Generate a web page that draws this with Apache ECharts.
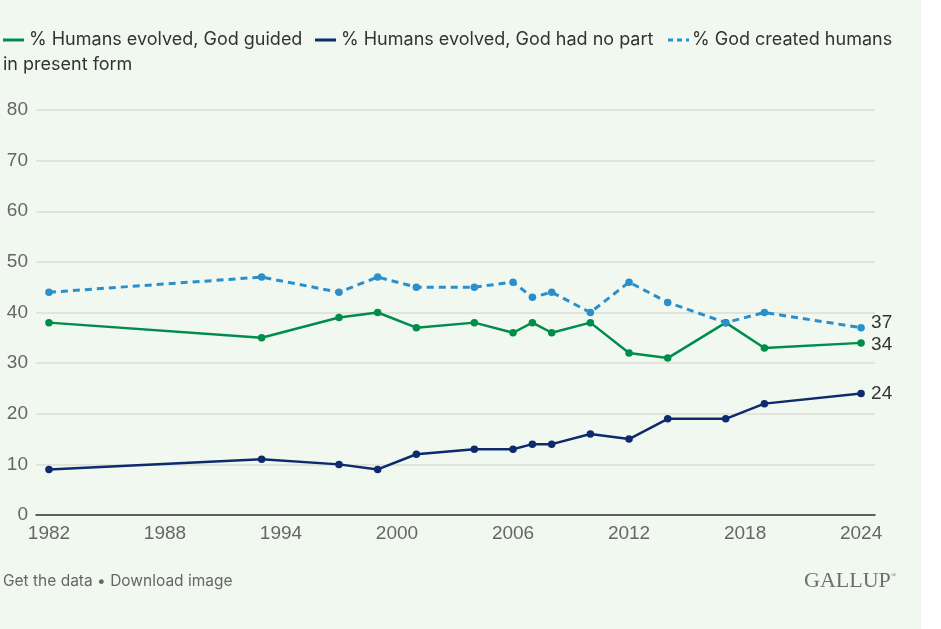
<!DOCTYPE html>
<html>
<head>
<meta charset="utf-8">
<script src="https://cdn.jsdelivr.net/npm/echarts@6/dist/echarts.min.js"></script>
<style>
  html, body { margin: 0; padding: 0; background: #ffffff; }
  #main { width: 941px; height: 629px; }
</style>
</head>
<body>
<div id="main"></div>
<script>
var years = [1982, 1993, 1997, 1999, 2001, 2004, 2006, 2007, 2008, 2010, 2012, 2014, 2017, 2019, 2024];
var guided = [38, 35, 39, 40, 37, 38, 36, 38, 36, 38, 32, 31, 38, 33, 34];
var noPart = [9, 11, 10, 9, 12, 13, 13, 14, 14, 16, 15, 19, 19, 22, 24];
var created = [44, 47, 44, 47, 45, 45, 46, 43, 44, 40, 46, 42, 38, 40, 37];
var yearTicks = [1982, 1988, 1994, 2000, 2006, 2012, 2018, 2024];

var GREEN = '#008c4a', NAVY = '#0c2a6c', BLUE = '#2a8fcb';

function pairs(vals) {
    var out = [];
    for (var i = 0; i < years.length; i++) {
        out.push([years[i], vals[i]]);
    }
    return out;
}

function makeSeries(name, vals, color, dashed, labelShift) {
    return {
        name: name,
        type: 'line',
        data: pairs(vals),
        symbol: 'circle',
        symbolSize: 7.5,
        lineStyle: { color: color, width: dashed ? 3 : 2.5, type: dashed ? [7, 5] : 'solid' },
        itemStyle: { color: color },
        emphasis: { disabled: true },
        endLabel: {
            show: true,
            distance: 10,
            offset: [0, labelShift],
            color: '#333',
            fontSize: 19,
            fontFamily: 'Liberation Sans',
            formatter: function (p) { return p.value[1]; }
        }
    };
}

function legendItem(x, textX, color, dashed, text) {
    return [
        {
            type: 'line',
            shape: { x1: x, y1: 40, x2: x + 21, y2: 40 },
            style: { stroke: color, lineWidth: 3, lineDash: dashed ? [5, 4] : null }
        },
        {
            type: 'text',
            x: textX, y: 40,
            style: { text: text, fill: '#333', font: '18px Inter', verticalAlign: 'middle' }
        }
    ];
}

var chart = echarts.init(document.getElementById('main'));

var option = {
    backgroundColor: '#ffffff',
    animation: false,
    grid: { left: 36, right: 66, top: 110, bottom: 114 },
    graphic: [
        { type: 'rect', z: -10, shape: { x: 0, y: 0, width: 921, height: 629 }, style: { fill: '#f1f8f0' } }
    ].concat(
        legendItem(3, 29, GREEN, false, '% Humans evolved, God guided'),
        legendItem(315, 341, NAVY, false, '% Humans evolved, God had no part'),
        legendItem(668, 692, BLUE, true, '% God created humans'),
        [
            { type: 'text', x: 3, y: 65, style: { text: 'in present form', fill: '#333', font: '18px Inter', verticalAlign: 'middle' } },
            { type: 'text', x: 3, y: 581, style: { text: 'Get the data \u2022 Download image', fill: '#666', font: '15.5px Inter', verticalAlign: 'middle' } },
            { type: 'text', x: 804, y: 581, style: { text: 'GALLUP', fill: '#6e6e6e', font: '22px "Liberation Serif"', verticalAlign: 'middle' } },
            { type: 'text', x: 891, y: 575, style: { text: '\u00ae', fill: '#6e6e6e', font: '7px "Liberation Serif"', verticalAlign: 'middle' } }
        ]
    ),
    xAxis: {
        type: 'value',
        min: 1981.33,
        max: 2024.72,
        axisLine: { show: true, lineStyle: { color: '#333', width: 1.5 } },
        axisTick: { show: false },
        splitLine: { show: false },
        axisLabel: {
            customValues: yearTicks,
            formatter: function (v) { return String(v); },
            color: '#666',
            fontSize: 19,
            fontFamily: 'Liberation Sans',
            margin: 9
        }
    },
    yAxis: {
        type: 'value',
        min: 0,
        max: 80,
        interval: 10,
        axisLine: { show: false },
        axisTick: { show: false },
        axisLabel: {
            color: '#666',
            fontSize: 19,
            fontFamily: 'Liberation Sans',
            margin: 8
        },
        splitLine: { lineStyle: { color: '#d8dfd7', width: 1.5 } }
    },
    series: [
        makeSeries('% Humans evolved, God guided', guided, GREEN, false, 2),
        makeSeries('% Humans evolved, God had no part', noPart, NAVY, false, 0),
        makeSeries('% God created humans in present form', created, BLUE, true, -5)
    ]
};

chart.setOption(option);
</script>
</body>
</html>
